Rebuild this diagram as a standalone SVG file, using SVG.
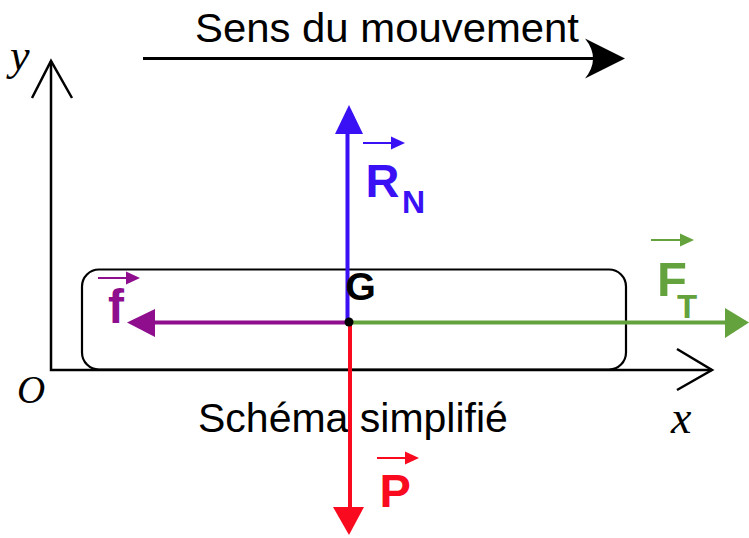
<svg xmlns="http://www.w3.org/2000/svg" width="749" height="538" viewBox="0 0 749 538">
<defs>
<style>
.sans{font-family:"Liberation Sans",Arial,sans-serif}
.lbl{font-family:"Liberation Sans",Arial,sans-serif;font-weight:bold}
.ital{font-family:"Liberation Serif","Times New Roman",serif;font-style:italic}
.axis{stroke:#000;stroke-width:2.5;fill:none}
</style>
</defs>
<rect width="749" height="538" fill="#fff"/>

<g id="motion">
<text class="sans" x="195" y="42" font-size="41.5" fill="#000" textLength="384" lengthAdjust="spacingAndGlyphs">Sens du mouvement</text>
<line x1="143" y1="58.5" x2="605" y2="58.5" stroke="#000" stroke-width="3"/>
<path d="M625,58.5 L585,38.5 Q601,58.5 585,78.5 Z" fill="#000"/>
</g>

<g id="axes">
<path class="axis" d="M51,61 L51,370 L712,370"/>
<path class="axis" d="M32,98 L51,61 L72,98"/>
<path class="axis" d="M677,349 L712,370 L677,390"/>
<text class="ital" x="10" y="70" font-size="44">y</text>
<text class="ital" x="17" y="403" font-size="39">O</text>
<text class="ital" x="671" y="433" font-size="46">x</text>
</g>

<g id="body">
<rect x="82" y="269.5" width="544" height="100" rx="17" ry="17" fill="none" stroke="#000" stroke-width="2.2"/>
<text class="sans" x="198" y="432" font-size="41" fill="#000">Schéma simplifié</text>
</g>

<g id="connectors">
<line x1="347.5" y1="322" x2="347.5" y2="130" stroke="#3A10F5" stroke-width="4"/>
<path d="M349,105 L335,134 L363,134 Z" fill="#3A10F5"/>
<line x1="349" y1="322.5" x2="150" y2="322.5" stroke="#8E0E8E" stroke-width="4"/>
<path d="M127,322.5 L155,309 L155,337 Z" fill="#8E0E8E"/>
<line x1="349" y1="322.5" x2="728" y2="322.5" stroke="#63A23D" stroke-width="4"/>
<path d="M749,322.5 L725,308 L725,338 Z" fill="#63A23D"/>
<line x1="350" y1="322" x2="350" y2="510" stroke="#F90A1E" stroke-width="4"/>
<path d="M349,535 L333,507 L364,507 Z" fill="#F90A1E"/>
</g>

<g id="G">
<circle cx="349" cy="322" r="4.5" fill="#000"/>
<text class="lbl" x="345.5" y="300" font-size="39" fill="#000">G</text>
</g>

<g id="RN">
<line x1="363" y1="143" x2="393" y2="143" stroke="#3A10F5" stroke-width="2"/>
<path d="M405,143 L391,136.5 L391,149.5 Z" fill="#3A10F5"/>
<text class="lbl" x="365.5" y="197" font-size="47" fill="#3A10F5">R</text>
<text class="lbl" x="402" y="213" font-size="32" fill="#3A10F5">N</text>
</g>

<g id="f">
<line x1="98" y1="278" x2="128" y2="278" stroke="#8E0E8E" stroke-width="2"/>
<path d="M140,278 L126,271.5 L126,284.5 Z" fill="#8E0E8E"/>
<text class="lbl" x="108" y="323" font-size="48" fill="#8E0E8E">f</text>
</g>

<g id="FT">
<line x1="651" y1="240" x2="682" y2="240" stroke="#63A23D" stroke-width="2"/>
<path d="M694,240 L680,233.5 L680,246.5 Z" fill="#63A23D"/>
<text class="lbl" x="657" y="296" font-size="49" fill="#63A23D">F</text>
<text class="lbl" x="677" y="318" font-size="33" fill="#63A23D">T</text>
</g>

<g id="P">
<line x1="377" y1="458" x2="407" y2="458" stroke="#F90A1E" stroke-width="2"/>
<path d="M419,458 L405,451.5 L405,464.5 Z" fill="#F90A1E"/>
<text class="lbl" x="379.5" y="507" font-size="47" fill="#F90A1E">P</text>
</g>
</svg>
